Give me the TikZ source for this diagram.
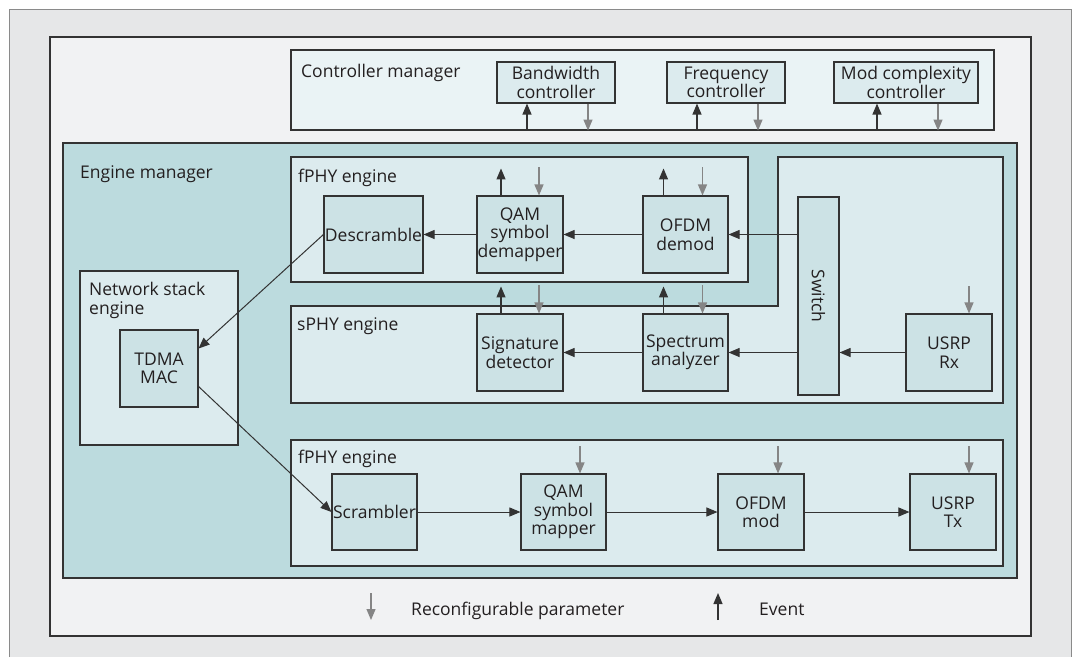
\documentclass[tikz,border=0pt]{standalone}
\usepackage{fontspec}
\setmainfont{Open Sans}
\usetikzlibrary{arrows.meta}
\definecolor{framefill}{HTML}{E6E7E8}
\definecolor{framedraw}{HTML}{8A8A8A}
\definecolor{panelfill}{HTML}{F1F2F3}
\definecolor{ctlfill}{HTML}{EAF3F5}
\definecolor{mgrfill}{HTML}{BCDBDE}
\definecolor{enginefill}{HTML}{DCEBEE}
\definecolor{blockfill}{HTML}{CCE2E5}
\definecolor{linec}{HTML}{333333}
\definecolor{paramc}{HTML}{858585}
\definecolor{txtc}{HTML}{231F20}
\newcommand{\diagfont}{\fontsize{17.5}{18.5}\selectfont}
\tikzset{%
  boxline/.style   = {draw=linec, line width=1.1pt, inner sep=0pt},%
  ctlblock/.style  = {boxline, fill=enginefill, align=center, minimum height=41pt},%
  block/.style     = {boxline, fill=blockfill, align=center, minimum height=77pt},%
  heading/.style   = {anchor=base west, inner sep=0pt},%
  flow/.style      = {draw=linec, line width=1pt, -{Triangle[length=11pt,width=9pt]}},%
  event/.style     = {draw=linec, line width=1.2pt, -{Triangle[length=11pt,width=9pt]}},%
  param/.style     = {draw=paramc, line width=1.2pt, -{Triangle[length=11pt,width=9pt]}}%
}
\begin{document}
\begin{tikzpicture}[x=1pt, y=-1pt, every node/.style = {font=\diagfont, text=txtc}]
  \useasboundingbox (0,0) rectangle (1075,657);
  % outer frame, open at the bottom
  \fill[framefill] (9,9) rectangle (1071,657);
  \draw[framedraw, line width=1pt] (9,657) -- (9,9) -- (1071,9) -- (1071,657);
  \node[boxline, fill=panelfill, minimum width=981pt, minimum height=599pt] (panel) at (540.5,336.5) {};

  % controller manager
  \node[boxline, fill=ctlfill, minimum width=703pt, minimum height=80pt] (ctlmgr) at (642.5,90) {};
  \node[heading] (ctlmgrlbl) at (301,77.5) {Controller manager};
  \node[ctlblock, minimum width=118pt] (bwctl)  at (556,82.5) {Bandwidth\\controller};
  \node[ctlblock, minimum width=118pt] (frqctl) at (726,82.5) {Frequency\\controller};
  \node[ctlblock, minimum width=144pt] (modctl) at (906,82.5) {Mod complexity\\controller};

  % engine manager and engines
  \node[boxline, fill=mgrfill, minimum width=954pt, minimum height=435pt] (engmgr) at (540,360.5) {};
  \node[heading] (engmgrlbl) at (80,178) {Engine manager};
  \node[boxline, fill=enginefill, minimum width=457pt, minimum height=125pt] (fphyrx) at (519.5,219.5) {};
  \node[heading] (fphyrxlbl) at (298,182.5) {fPHY engine};
  \draw[boxline, fill=enginefill] (291,306) -- (778,306) -- (778,157) -- (1003,157)
    -- (1003,403) -- (291,403) -- cycle;
  \node[heading] (sphylbl) at (297,330) {sPHY engine};
  \node[boxline, fill=enginefill, minimum width=158pt, minimum height=174pt] (netstack) at (159,358) {};
  \node[heading, align=left] (netstacklbl) at (89,314) {Network stack\\engine};
  \node[boxline, fill=enginefill, minimum width=712pt, minimum height=126pt] (fphytx) at (647,503) {};
  \node[heading] (fphytxlbl) at (298,463.5) {fPHY engine};

  % blocks
  \node[block, minimum width=99pt] (descr)  at (373.5,234.5) {Descramble};
  \node[block, minimum width=86pt] (qamd)   at (520,234.5)   {QAM\\symbol\\demapper};
  \node[block, minimum width=85pt] (ofdmd)  at (685.5,234.5) {OFDM\\demod};
  \node[block, minimum width=41pt, minimum height=198pt] (switch) at (818.5,296) {};
  \node[rotate=-90] (switchlbl) at (switch) {Switch};
  \node[block, minimum width=86pt] (sig)    at (520,352.5)   {Signature\\detector};
  \node[block, minimum width=85pt] (spec)   at (685.5,352.5) {Spectrum\\analyzer};
  \node[block, minimum width=86pt] (usrprx) at (949,352.5)   {USRP\\Rx};
  \node[block, minimum width=78pt] (tdma)   at (159,368.5)   {TDMA\\MAC};
  \node[block, minimum width=85pt, minimum height=76pt] (scram) at (374.5,512) {Scrambler};
  \node[block, minimum width=85pt, minimum height=76pt] (qamm)  at (563.5,512) {QAM\\symbol\\mapper};
  \node[block, minimum width=86pt, minimum height=76pt] (ofdmm) at (761,512)   {OFDM\\mod};
  \node[block, minimum width=86pt, minimum height=76pt] (usrptx) at (953,512)  {USRP\\Tx};

  % data path
  \draw[flow] (qamd.west) -- (descr.east);
  \draw[flow] (ofdmd.west) -- (qamd.east);
  \draw[flow] (switch.west |- ofdmd.east) -- (ofdmd.east);
  \draw[flow] (usrprx.west) -- (switch.east |- usrprx.west);
  \draw[flow] (switch.west |- spec.east) -- (spec.east);
  \draw[flow] (spec.west) -- (sig.east);
  \draw[flow] (descr.west) -- ([yshift=20pt]tdma.east);
  \draw[flow] ([yshift=-18pt]tdma.east) -- (scram.west);
  \draw[flow] (scram.east) -- (qamm.west);
  \draw[flow] (qamm.east) -- (ofdmm.west);
  \draw[flow] (ofdmm.east) -- (usrptx.west);

  % events and parameters
  \foreach \c in {bwctl,frqctl,modctl}{
    \draw[event] ([xshift=-29pt]\c.south |- ctlmgr.south) -- ([xshift=-29pt]\c.south);
    \draw[param] ([xshift=32pt]\c.south) -- ([xshift=32pt]\c.south |- ctlmgr.south);
  }
  \foreach \b/\e/\p in {qamd/-19/19,ofdmd/-22/17,sig/-19/19,spec/-22/17}{
    \draw[event] ([xshift=\e pt]\b.north) -- ++(0,-27);
    \draw[param] ([xshift=\p pt]\b.north) ++(0,-28) -- ([xshift=\p pt]\b.north);
  }
  \foreach \b/\p in {usrprx/20,qamm/16.5,ofdmm/17,usrptx/16}{
    \draw[param] ([xshift=\p pt]\b.north) ++(0,-27) -- ([xshift=\p pt]\b.north);
  }

  % legend
  \coordinate (legp) at (371,593);
  \draw[param] (legp) -- ++(0,27);
  \node[heading] (legptxt) at (411,615) {Reconfigurable parameter};
  \coordinate (lege) at (718,620);
  \draw[event] (lege) -- ++(0,-27);
  \node[heading] (legetxt) at (759,615) {Event};
\end{tikzpicture}
\end{document}
